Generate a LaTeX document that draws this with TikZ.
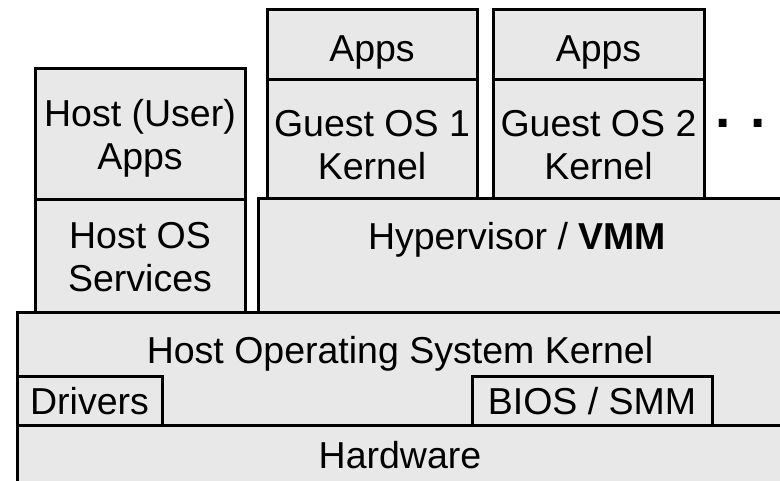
\documentclass[tikz,border=0pt]{standalone}
\usepackage{fontspec}
\setmainfont{Liberation Sans}
\usetikzlibrary{positioning}

\tikzset{
  layer/.style={draw, rectangle, fill=black!9, line width=3pt, outer sep=0pt, inner sep=0pt, align=center, text depth=0pt, font=\fontsize{37.5}{43}\selectfont},
  caption/.style={inner sep=0pt, align=center, text depth=0pt, font=\fontsize{37.5}{43}\selectfont},
}

\begin{document}
\begin{tikzpicture}[x=1pt, y=-1pt, node distance=0pt]
    \useasboundingbox (0,0) rectangle (780,481);

    % Base layers (run off the right and bottom edges)
    \node[layer, minimum width=766pt, minimum height=60pt] (hw) at (400,455) {Hardware};
    \node[layer, minimum width=766pt, minimum height=112pt] (hkern) at (400,369) {};
    \node[caption, anchor=base] (hkerntxt) at (400,363) {Host Operating System Kernel};
    \node[layer, minimum width=145pt, minimum height=48pt, anchor=south west] (drv) at (hkern.south west) {Drivers};
    \node[layer, minimum width=240pt, minimum height=48pt] (bios) at (592,401) {BIOS / SMM};

    % Host side
    \node[layer, minimum width=210pt, minimum height=113pt] (hsvc) at (140,256.5) {Host OS\\Services};
    \node[layer, minimum width=210pt, minimum height=131pt, above=of hsvc] (happs) {Host (User)\\Apps};

    % Hypervisor and guests
    \node[layer, minimum width=525pt, minimum height=114pt] (hyp) at (520.5,256) {};
    \node[caption, anchor=base] (hyptxt) at (517,250) {Hypervisor / \textbf{VMM}};
    \node[layer, minimum width=210pt, minimum height=119pt] (gker1) at (372,139.5) {};
    \node[layer, minimum width=210pt, minimum height=70pt, above=of gker1] (gapps1) {};
    \node[layer, minimum width=211pt, minimum height=119pt] (gker2) at (598.5,139.5) {};
    \node[layer, minimum width=211pt, minimum height=70pt, above=of gker2] (gapps2) {};
    \node[caption] (gker1txt) at (372,145) {Guest OS 1\\Kernel};
    \node[caption] (gapps1txt) at (372,48.5) {Apps};
    \node[caption] (gker2txt) at (598.5,145) {Guest OS 2\\Kernel};
    \node[caption] (gapps2txt) at (598.5,48.5) {Apps};
    \node[inner sep=0pt, anchor=base west, font=\fontsize{55}{60}\selectfont\bfseries] (more) at (715,128) {. .};
\end{tikzpicture}
\end{document}
